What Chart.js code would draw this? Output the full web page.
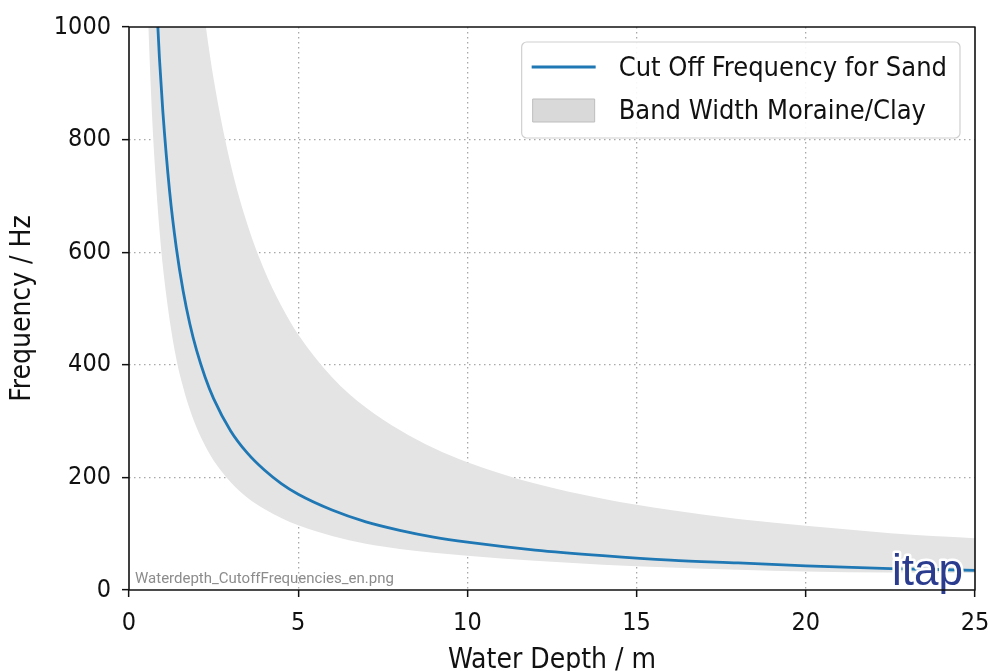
<!DOCTYPE html>
<html>
<head>
<meta charset="utf-8">
<script src="https://cdn.jsdelivr.net/npm/chart.js@4.4.1/dist/chart.umd.min.js"></script>
<style>
  html, body { margin: 0; padding: 0; background: #fff; }
  canvas { display: block; }
</style>
</head>
<body>
<canvas id="cutoffChart" width="990" height="671"></canvas>
<script>
const depths = [0.55, 0.6, 0.7, 0.8, 0.9, 1, 1.2, 1.4, 1.6, 1.8, 2, 2.25, 2.5, 3, 3.5, 4, 4.5, 5, 6, 7, 8, 9, 10, 12, 14, 16, 18, 20, 22.5, 25];

// Cut off frequency for sand (Hz)
const sandCutoff = [1545, 1417, 1214, 1063, 944, 850, 708, 607, 531, 472, 425, 378, 340, 283, 243, 213, 189, 170, 142, 121, 106, 94, 85, 71, 61, 53, 48, 43, 38, 35];

// Moraine / clay band, upper and lower edge (Hz)
const bandUpper = [4100, 3780, 3240, 2840, 2520, 2270, 1890, 1620, 1420, 1260, 1135, 1010, 908, 757, 649, 568, 505, 454, 378, 324, 284, 252, 227, 189, 162, 142, 126, 114, 101, 92];
const bandLower = [1045, 958, 820, 720, 640, 575, 480, 410, 360, 320, 288, 256, 230, 192, 164, 144, 128, 115, 96, 82, 73, 66, 61, 52, 45, 40, 36, 33, 31, 30];

const xTicks = [0, 5, 10, 15, 20, 25];
const yTicks = [0, 200, 400, 600, 800, 1000];

const seriesLabels = ['Cut Off Frequency for Sand', 'Band Width Moraine/Clay'];

const FONT = "'DejaVu Sans Condensed', 'Liberation Sans Narrow', 'DejaVu Sans', sans-serif";
Chart.defaults.font.family = FONT;
Chart.defaults.color = '#111';

function toPoints(xs, ys) {
    return xs.map((x, i) => ({ x: x, y: ys[i] }));
}

// grid lines only inside the plot, axes lines come from the frame
function innerGrid(edges) {
    return (ctx) => edges.includes(ctx.tick && ctx.tick.value) ? 'rgba(0,0,0,0)' : '#a8a8a8';
}

// frame, legend box, file name and logo
const decorations = {
    id: 'decorations',
    afterDatasetsDraw(chart) {
        const ctx = chart.ctx;
        const a = chart.chartArea;
        ctx.save();

        // file name watermark
        ctx.font = "15px Roboto, 'Open Sans', sans-serif";
        ctx.fillStyle = '#8c8c8c';
        ctx.textBaseline = 'alphabetic';
        ctx.fillText('Waterdepth_CutoffFrequencies_en.png', a.left + 6, a.bottom - 7);

        // itap logo
        ctx.font = "44px 'Liberation Sans', Arial, sans-serif";
        ctx.lineJoin = 'round';
        ctx.lineWidth = 5;
        ctx.strokeStyle = '#fff';
        ctx.strokeText('itap', 892, 585);
        ctx.fillStyle = '#2b3c8f';
        ctx.fillText('itap', 892, 585);

        // legend
        const ds = chart.data.datasets;
        ctx.font = '27px ' + FONT;
        const textW = Math.max(ctx.measureText(seriesLabels[0]).width, ctx.measureText(seriesLabels[1]).width);
        const right = a.right - 15;
        const left = right - (97 + textW + 13);
        const top = a.top + 15;
        const h = 96;
        ctx.beginPath();
        ctx.roundRect(left, top, right - left, h, 5);
        ctx.fillStyle = 'rgba(255,255,255,0.9)';
        ctx.fill();
        ctx.strokeStyle = '#d0d0d0';
        ctx.lineWidth = 1.2;
        ctx.stroke();

        ctx.beginPath();
        ctx.moveTo(left + 10, top + 25);
        ctx.lineTo(left + 74, top + 25);
        ctx.strokeStyle = ds[0].borderColor;
        ctx.lineWidth = 3;
        ctx.stroke();

        ctx.fillStyle = '#d9d9d9';
        ctx.fillRect(left + 11, top + 57, 62, 23);
        ctx.strokeStyle = '#bdbdbd';
        ctx.lineWidth = 1;
        ctx.strokeRect(left + 11, top + 57, 62, 23);

        ctx.fillStyle = '#111';
        ctx.textBaseline = 'middle';
        ctx.fillText(seriesLabels[0], left + 97, top + 27);
        ctx.fillText(seriesLabels[1], left + 97, top + 70);

        // plot frame
        ctx.strokeStyle = '#111';
        ctx.lineWidth = 1.6;
        ctx.strokeRect(a.left, a.top, a.right - a.left, a.bottom - a.top);
        ctx.restore();
    }
};

new Chart(document.getElementById('cutoffChart'), {
    type: 'line',
    data: {
        datasets: [
            {
                label: seriesLabels[0],
                data: toPoints(depths, sandCutoff),
                borderColor: '#1f77b4',
                borderWidth: 2.8,
                pointRadius: 0,
                cubicInterpolationMode: 'monotone',
                fill: false
            },
            {
                label: seriesLabels[1],
                data: toPoints(depths, bandUpper),
                borderColor: 'rgba(0,0,0,0)',
                borderWidth: 0,
                backgroundColor: '#e4e4e4',
                pointRadius: 0,
                cubicInterpolationMode: 'monotone',
                fill: '+1'
            },
            {
                label: 'lower edge',
                data: toPoints(depths, bandLower),
                borderColor: 'rgba(0,0,0,0)',
                borderWidth: 0,
                pointRadius: 0,
                cubicInterpolationMode: 'monotone',
                fill: false
            }
        ]
    },
    options: {
        responsive: false,
        animation: false,
        layout: { padding: { top: 27, right: 15, left: 0, bottom: 0 } },
        plugins: {
            legend: { display: false },
            tooltip: { enabled: false }
        },
        scales: {
            x: {
                type: 'linear',
                min: 0,
                max: 25,
                afterBuildTicks: (s) => { s.ticks = xTicks.map(v => ({ value: v })); },
                afterFit: (s) => { s.height = 81; s.paddingLeft = 0; s.paddingRight = 0; },
                ticks: { font: { size: 25 }, padding: 11, maxRotation: 0, color: '#111', callback: (v) => String(v) },
                grid: {
                    color: innerGrid([0, 25]),
                    lineWidth: 1.3,
                    tickColor: '#111',
                    tickLength: 7,
                    tickWidth: 1.5,
                    tickBorderDash: []
                },
                border: { display: false, dash: [1.5, 3.5] },
                title: {
                    display: true,
                    text: 'Water Depth / m',
                    font: { size: 28, lineHeight: 0.74 },
                    padding: { top: 0, bottom: 0 },
                    color: '#111'
                }
            },
            y: {
                min: 0,
                max: 1000,
                afterBuildTicks: (s) => { s.ticks = yTicks.map(v => ({ value: v })); },
                afterFit: (s) => { s.width = 129; },
                ticks: { font: { size: 25 }, padding: 11, color: '#111', callback: (v) => String(v) },
                grid: {
                    color: innerGrid([0, 1000]),
                    lineWidth: 1.3,
                    tickColor: '#111',
                    tickLength: 7,
                    tickWidth: 1.5,
                    tickBorderDash: []
                },
                border: { display: false, dash: [1.5, 3.5] },
                title: {
                    display: true,
                    text: 'Frequency / Hz',
                    font: { size: 28, lineHeight: 1 },
                    padding: { top: 9, bottom: 0 },
                    color: '#111'
                }
            }
        }
    },
    plugins: [decorations]
});
</script>
</body>
</html>
